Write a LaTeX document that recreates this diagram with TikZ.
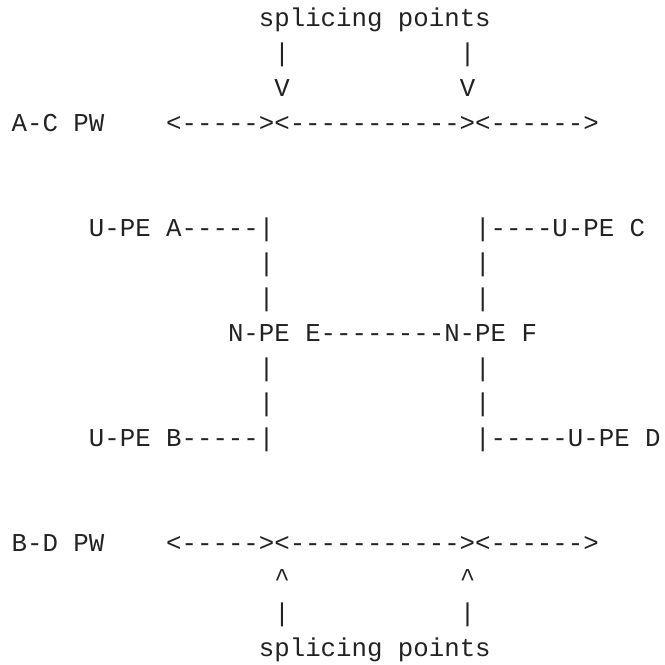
\documentclass[tikz,border=0pt]{standalone}
\usepackage{fontspec}
\setmonofont{Liberation Mono}
\definecolor{ink}{HTML}{222222}
\tikzset{
  ascii/.style={anchor=base west, inner sep=0pt, text=ink,
    font=\ttfamily\fontsize{25.75pt}{35pt}\selectfont}
}
\begin{document}
\begin{tikzpicture}[x=15.45pt, y=-35.05pt]
\useasboundingbox (-11.5pt, 26pt) rectangle (653.5pt, -639pt);
% splicing points, above
\node[ascii] (spliceTop) at (16, 0) {splicing points};
\node[ascii] (barTopL) at (17, 1) {|};
\node[ascii] (barTopR) at (29, 1) {|};
\node[ascii] (vL) at (17, 2) {V};
\node[ascii] (vR) at (29, 2) {V};
% PW A-C
\node[ascii] (pwAC) at (0, 3) {A-C PW};
\node[ascii] (segAC) at (10, 3) {<-----><-----------><------>};
% U-PE A and U-PE C
\node[ascii] (upeA) at (5, 6) {U-PE A-----|};
\node[ascii] (upeC) at (30, 6) {|----U-PE C};
\node[ascii] (barL1) at (16, 7) {|};
\node[ascii] (barR1) at (30, 7) {|};
\node[ascii] (barL2) at (16, 8) {|};
\node[ascii] (barR2) at (30, 8) {|};
% N-PE E and N-PE F
\node[ascii] (npe) at (14, 9) {N-PE E--------N-PE F};
\node[ascii] (barL3) at (16, 10) {|};
\node[ascii] (barR3) at (30, 10) {|};
\node[ascii] (barL4) at (16, 11) {|};
\node[ascii] (barR4) at (30, 11) {|};
% U-PE B and U-PE D
\node[ascii] (upeB) at (5, 12) {U-PE B-----|};
\node[ascii] (upeD) at (30, 12) {|-----U-PE D};
% PW B-D
\node[ascii] (pwBD) at (0, 15) {B-D PW};
\node[ascii] (segBD) at (10, 15) {<-----><-----------><------>};
% splicing points, below
\node[ascii] (hatL) at (17, 16) {\textasciicircum};
\node[ascii] (hatR) at (29, 16) {\textasciicircum};
\node[ascii] (barBotL) at (17, 17) {|};
\node[ascii] (barBotR) at (29, 17) {|};
\node[ascii] (spliceBot) at (16, 18) {splicing points};
\end{tikzpicture}
\end{document}
